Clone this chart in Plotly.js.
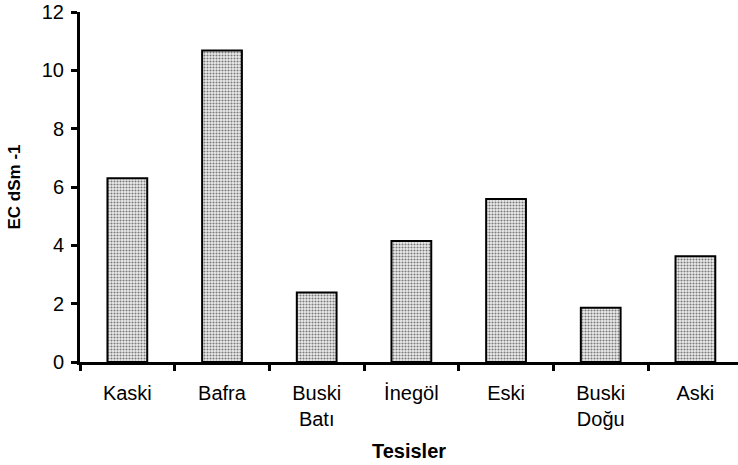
<!DOCTYPE html>
<html>
<head>
<meta charset="utf-8">
<script src="https://cdn.plot.ly/plotly-3.0.1.min.js"></script>
<style>
  html, body { margin: 0; padding: 0; background: #fff; }
  #chart { width: 738px; height: 465px; }
</style>
</head>
<body>
<div id="chart"></div>
<script>
const tesisler = ['Kaski', 'Bafra', 'Buski<br>Batı', 'İnegöl', 'Eski', 'Buski<br>Doğu', 'Aski'];
const ecValues = [6.3, 10.68, 2.38, 4.15, 5.59, 1.86, 3.63];
const yTicks = [0, 2, 4, 6, 8, 10, 12];

const trace = {
    type: 'bar',
    x: tesisler,
    y: ecValues,
    width: 0.42,
    marker: {
        color: '#eeeeee',
        line: {color: '#000', width: 2},
        pattern: {shape: '.', fgcolor: '#7a7a7a', bgcolor: '#eeeeee', size: 3, solidity: 0.4}
    },
    hoverinfo: 'x+y'
};

const layout = {
    width: 738,
    height: 465,
    margin: {l: 80, r: 0, t: 12, b: 103},
    paper_bgcolor: '#fff',
    plot_bgcolor: '#fff',
    showlegend: false,
    font: {family: 'Liberation Sans, Arial, sans-serif', size: 20, color: '#000'},
    xaxis: {
        type: 'category',
        range: [-0.5, 6.45],
        showgrid: false,
        zeroline: false,
        showline: true,
        linecolor: '#000',
        linewidth: 3,
        ticks: 'outside',
        tickson: 'boundaries',
        ticklen: 6,
        tickwidth: 3,
        tickcolor: '#000',
        ticklabelstandoff: 11,
        title: {text: '<b>Tesisler</b>', font: {size: 20}, standoff: 15}
    },
    yaxis: {
        range: [0, 12],
        tickvals: yTicks,
        showgrid: false,
        zeroline: false,
        showline: true,
        linecolor: '#000',
        linewidth: 3,
        ticks: 'outside',
        ticklen: 6,
        tickwidth: 3,
        tickcolor: '#000',
        ticklabelstandoff: 3,
        title: {text: '<b>EC dSm -1</b>', font: {size: 17}, standoff: 17}
    }
};

Plotly.newPlot('chart', [trace], layout, {displayModeBar: false, staticPlot: true});
</script>
</body>
</html>
